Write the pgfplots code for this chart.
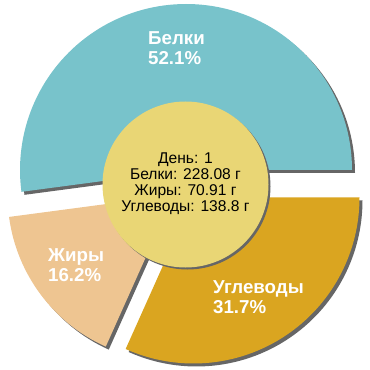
\documentclass[border=0pt]{standalone}
\usepackage{pgfplots}
\pgfplotsset{compat=1.18}
\usepackage{fontspec}
\setmainfont{Liberation Sans}
\definecolor{cB}{RGB}{120,195,203}
\definecolor{cF}{RGB}{238,197,145}
\definecolor{cC}{RGB}{218,165,32}
\definecolor{cM}{RGB}{233,214,117}
\definecolor{cS}{RGB}{102,102,102}
% shares (percent)
\def\vB{52.1}\def\vF{16.2}\def\vC{31.7}
\pgfmathsetmacro{\aA}{0}
\pgfmathsetmacro{\aB}{\vB*3.6}
\pgfmathsetmacro{\aC}{\aB+\vF*3.6}
\pgfmathsetmacro{\aD}{\aC+\vC*3.6}
\def\R{166}
\newcommand{\slice}[5]{% color, cx, cy, a1, a2
  \fill[cS] (axis cs:#2+3,#3-3) -- ++(#4:\R bp) arc[start angle=#4, end angle=#5, radius=\R bp] -- cycle;
}
\newcommand{\slicefill}[5]{%
  \fill[#1] (axis cs:#2,#3) -- ++(#4:\R bp) arc[start angle=#4, end angle=#5, radius=\R bp] -- cycle;
}
\begin{document}
\begin{tikzpicture}
\begin{axis}[x=1bp,y=1bp,anchor=origin,at={(0,0)},
  xmin=0,xmax=370,ymin=0,ymax=370,axis lines=none,clip=false]
\slice{cB}{186}{200}{\aA}{\aB}
\slice{cF}{173.6}{174.9}{\aB}{\aC}
\slice{cC}{193.5}{172.5}{\aC}{\aD}
\slicefill{cB}{186}{200}{\aA}{\aB}
\slicefill{cF}{173.6}{174.9}{\aB}{\aC}
\slicefill{cC}{193.5}{172.5}{\aC}{\aD}
\fill[cS] (axis cs:187.5,183.5) circle[radius=83bp];
\fill[cM] (axis cs:185.5,185.5) circle[radius=83bp];
\node[anchor=west,inner sep=0pt,align=left,text=white,font=\fontsize{18.7bp}{20bp}\selectfont\bfseries] at (axis cs:148,322) {Белки\\52.1\%};
\node[anchor=west,inner sep=0pt,align=left,text=white,font=\fontsize{18.7bp}{20bp}\selectfont\bfseries] at (axis cs:48,105) {Жиры\\16.2\%};
\node[anchor=west,inner sep=0pt,align=left,text=white,font=\fontsize{18.7bp}{20bp}\selectfont\bfseries] at (axis cs:213,72.5) {Углеводы\\31.7\%};
\node[align=center,inner sep=0pt,text=black,font=\fontsize{15.6bp}{16bp}\selectfont] at (axis cs:185.5,186) {День: 1\\Белки: 228.08 г\\Жиры: 70.91 г\\Углеводы: 138.8 г};
\end{axis}
\pgfresetboundingbox
\useasboundingbox (0,0) rectangle (370bp,370bp);
\end{tikzpicture}
\end{document}
